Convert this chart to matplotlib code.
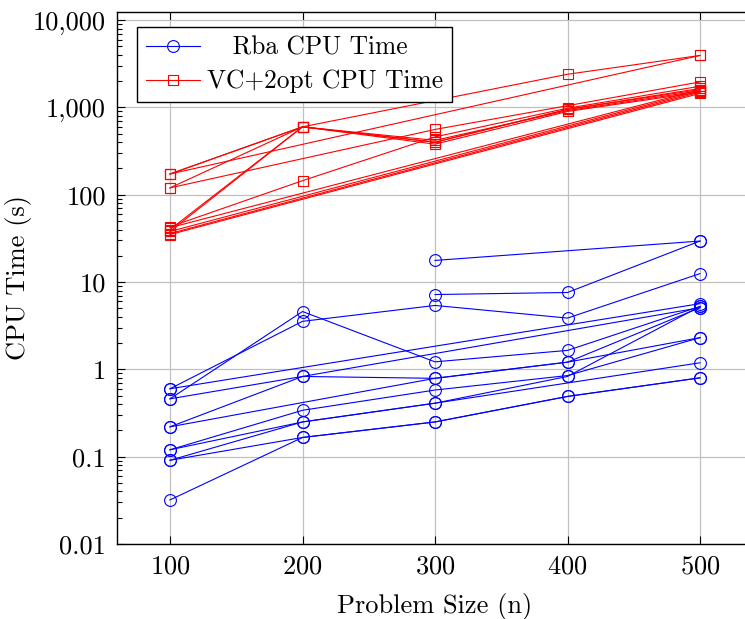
import numpy as np
import matplotlib.pyplot as plt
from matplotlib.ticker import LogLocator, NullFormatter

plt.rcParams['font.family'] = 'cmr10'
plt.rcParams['axes.formatter.use_mathtext'] = True
plt.rcParams['mathtext.fontset'] = 'cm'
plt.rcParams['font.size'] = 19

nan = np.nan
sizes = [100, 200, 300, 400, 500]

# one row per instance, nan = no run at that size
rba_runs = [
    [nan, nan, 17.7, nan, 29.5],
    [nan, nan, 7.2, 7.6, 29.5],
    [0.60, 3.55, 5.4, 3.87, 12.5],
    [0.46, 4.6, 1.22, 1.65, 5.26],
    [0.60, nan, nan, nan, 5.66],
    [0.46, 0.83, nan, nan, 5.09],
    [0.22, 0.83, 0.79, 1.21, 5.09],
    [0.22, nan, 0.79, 1.21, 2.31],
    [0.12, 0.34, 0.58, 0.85, 2.31],
    [0.12, 0.25, 0.41, nan, 1.19],
    [0.091, 0.25, 0.41, 0.83, 5.26],
    [0.091, 0.166, 0.25, 0.49, 0.80],
    [0.032, 0.166, 0.25, 0.49, 0.80],
]

vc_runs = [
    [173, 600, 400, 950, 1600],
    [173, 600, 420, 920, 1550],
    [173, nan, nan, nan, 3940],
    [120, 600, 380, 900, 1500],
    [120, nan, 560, nan, 1960],
    [40, 600, 400, 950, 1650],
    [38, 600, nan, 2400, 3940],
    [43, 145, 460, 980, 1750],
    [36, nan, nan, nan, 1500],
    [38, nan, nan, nan, 1550],
    [35, nan, nan, nan, 1450],
    [42, nan, nan, nan, 1600],
]

ytick_vals = [0.01, 0.1, 1, 10, 100, 1000, 10000]
ytick_labels = ['0.01', '0.1', '1', '10', '100', '1,000', '10,000']

fig = plt.figure(figsize=(7.45, 6.19), dpi=100)
ax = fig.add_axes([117/745, 75/619, 636/745, 532/619])

x = np.array(sizes)
for i, row in enumerate(rba_runs):
    y = np.array(row)
    ok = ~np.isnan(y)
    ax.plot(x[ok], y[ok], color='blue', marker='o', mfc='none', ms=8.5,
            lw=0.8, mew=0.8, label='   Rba CPU Time' if i == 0 else None)
for i, row in enumerate(vc_runs):
    y = np.array(row)
    ok = ~np.isnan(y)
    ax.plot(x[ok], y[ok], color='red', marker='s', mfc='none', ms=7.5,
            lw=0.8, mew=0.8, label='VC+2opt CPU Time' if i == 0 else None)

ax.set_yscale('log')
ax.set_xlim(60, 540)
ax.set_ylim(0.01, 12400)
ax.set_xticks(sizes)
ax.set_yticks(ytick_vals)
ax.set_yticklabels(ytick_labels)
ax.yaxis.set_minor_locator(LogLocator(base=10, subs=np.arange(2, 10)))
ax.yaxis.set_minor_formatter(NullFormatter())
ax.tick_params(which='both', direction='in', top=True, right=True, width=0.8)
ax.tick_params(which='major', length=6, pad=8)
ax.tick_params(which='minor', length=3.5)
ax.grid(True, which='major', color='#c0c0c0', lw=0.9)
ax.set_axisbelow(True)
for s in ax.spines.values():
    s.set_linewidth(1.0)

ax.set_xlabel('Problem Size (n)')
ax.xaxis.set_label_coords(0.5, -0.092)
ax.set_ylabel('CPU Time (s)')
ax.yaxis.set_label_coords(-0.134, 0.5)

leg = ax.legend(loc='upper left', bbox_to_anchor=(0.032, 0.972), borderaxespad=0,
                fancybox=False, framealpha=1, edgecolor='black', handlelength=2.1,
                borderpad=0.35, labelspacing=0.4, handletextpad=0.3, fontsize=18.3)
leg.get_frame().set_linewidth(1.0)

fig.savefig('out.png', dpi=100)
